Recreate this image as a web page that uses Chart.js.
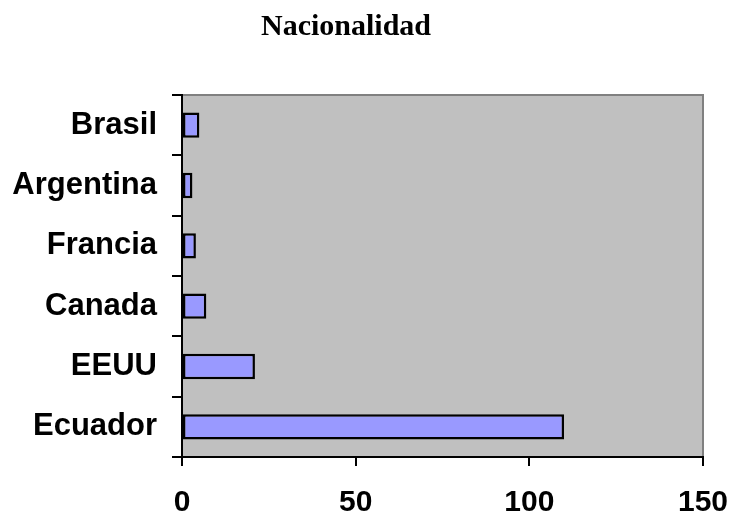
<!DOCTYPE html>
<html>
<head>
<meta charset="utf-8">
<script src="https://cdn.jsdelivr.net/npm/chart.js@4/dist/chart.umd.min.js"></script>
<style>
    html, body { margin: 0; padding: 0; background: #ffffff; }
    #caja { width: 731px; height: 515px; }
</style>
</head>
<body>
<div id="caja"><canvas id="grafica_1" width="731" height="515"></canvas></div>
<script>
// Datos de la gráfica
var titulo = 'Nacionalidad';
var paises = ['Brasil', 'Argentina', 'Francia', 'Canada', 'EEUU', 'Ecuador'];
var personas = [5, 3, 4, 7, 21, 110];
var marcasX = [0, 50, 100, 150];

var fuenteEjes = "'Liberation Sans', Arial, sans-serif";

// fondo gris del área de la gráfica, borde superior/derecho y título
var fondoGris = {
    id: 'fondoGris',
    beforeDraw: function (chart) {
        var ctx = chart.ctx, a = chart.chartArea;
        ctx.save();
        ctx.fillStyle = '#ffffff';
        ctx.fillRect(0, 0, chart.width, chart.height);
        ctx.fillStyle = '#c0c0c0';
        ctx.fillRect(a.left, a.top, a.right - a.left, a.bottom - a.top);
        ctx.strokeStyle = '#808080';
        ctx.lineWidth = 2;
        ctx.beginPath();
        ctx.moveTo(a.left, a.top);
        ctx.lineTo(a.right, a.top);
        ctx.lineTo(a.right, a.bottom);
        ctx.stroke();
        // título
        ctx.fillStyle = '#000000';
        ctx.font = "bold 30px 'Liberation Serif', 'Times New Roman', serif";
        ctx.textAlign = 'center';
        ctx.textBaseline = 'alphabetic';
        ctx.fillText(titulo, 346, 35);
        ctx.restore();
    }
};

var gx1 = document.getElementById("grafica_1").getContext("2d");
var myChart = new Chart(gx1, {
    type: "bar",
    data: {
        labels: paises,
        datasets: [{
            label: titulo,
            data: personas,
            backgroundColor: '#9999ff',
            borderColor: '#000000',
            borderWidth: 2.5,
            borderSkipped: false,
            barPercentage: 0.42,
            categoryPercentage: 1
        }]
    },
    options: {
        indexAxis: 'y',
        responsive: false,
        animation: false,
        layout: { padding: { top: 95, right: 28 } },
        plugins: {
            legend: { display: false },
            tooltip: { enabled: false },
            title: { display: false }
        },
        scales: {
            x: {
                min: 0,
                max: 150,
                afterBuildTicks: function (eje) {
                    eje.ticks = marcasX.map(function (v) { return { value: v }; });
                },
                afterFit: function (eje) {
                    eje.height = 58;
                    eje.paddingLeft = 0;
                    eje.paddingRight = 0;
                },
                border: { color: '#000000', width: 2 },
                grid: { drawOnChartArea: false, drawTicks: true, tickLength: 9, color: '#000000', lineWidth: 2 },
                ticks: { color: '#000000', padding: 19, maxRotation: 0, font: { family: fuenteEjes, size: 30, weight: 'bold' } }
            },
            y: {
                afterFit: function (eje) {
                    eje.width = 182;
                    eje.paddingTop = 0;
                    eje.paddingBottom = 0;
                },
                border: { color: '#000000', width: 2 },
                grid: { offset: true, drawOnChartArea: false, drawTicks: true, tickLength: 10, color: '#000000', lineWidth: 2 },
                ticks: { color: '#000000', padding: 15, font: { family: fuenteEjes, size: 31, weight: 'bold' } }
            }
        }
    },
    plugins: [fondoGris]
});
</script>
</body>
</html>
